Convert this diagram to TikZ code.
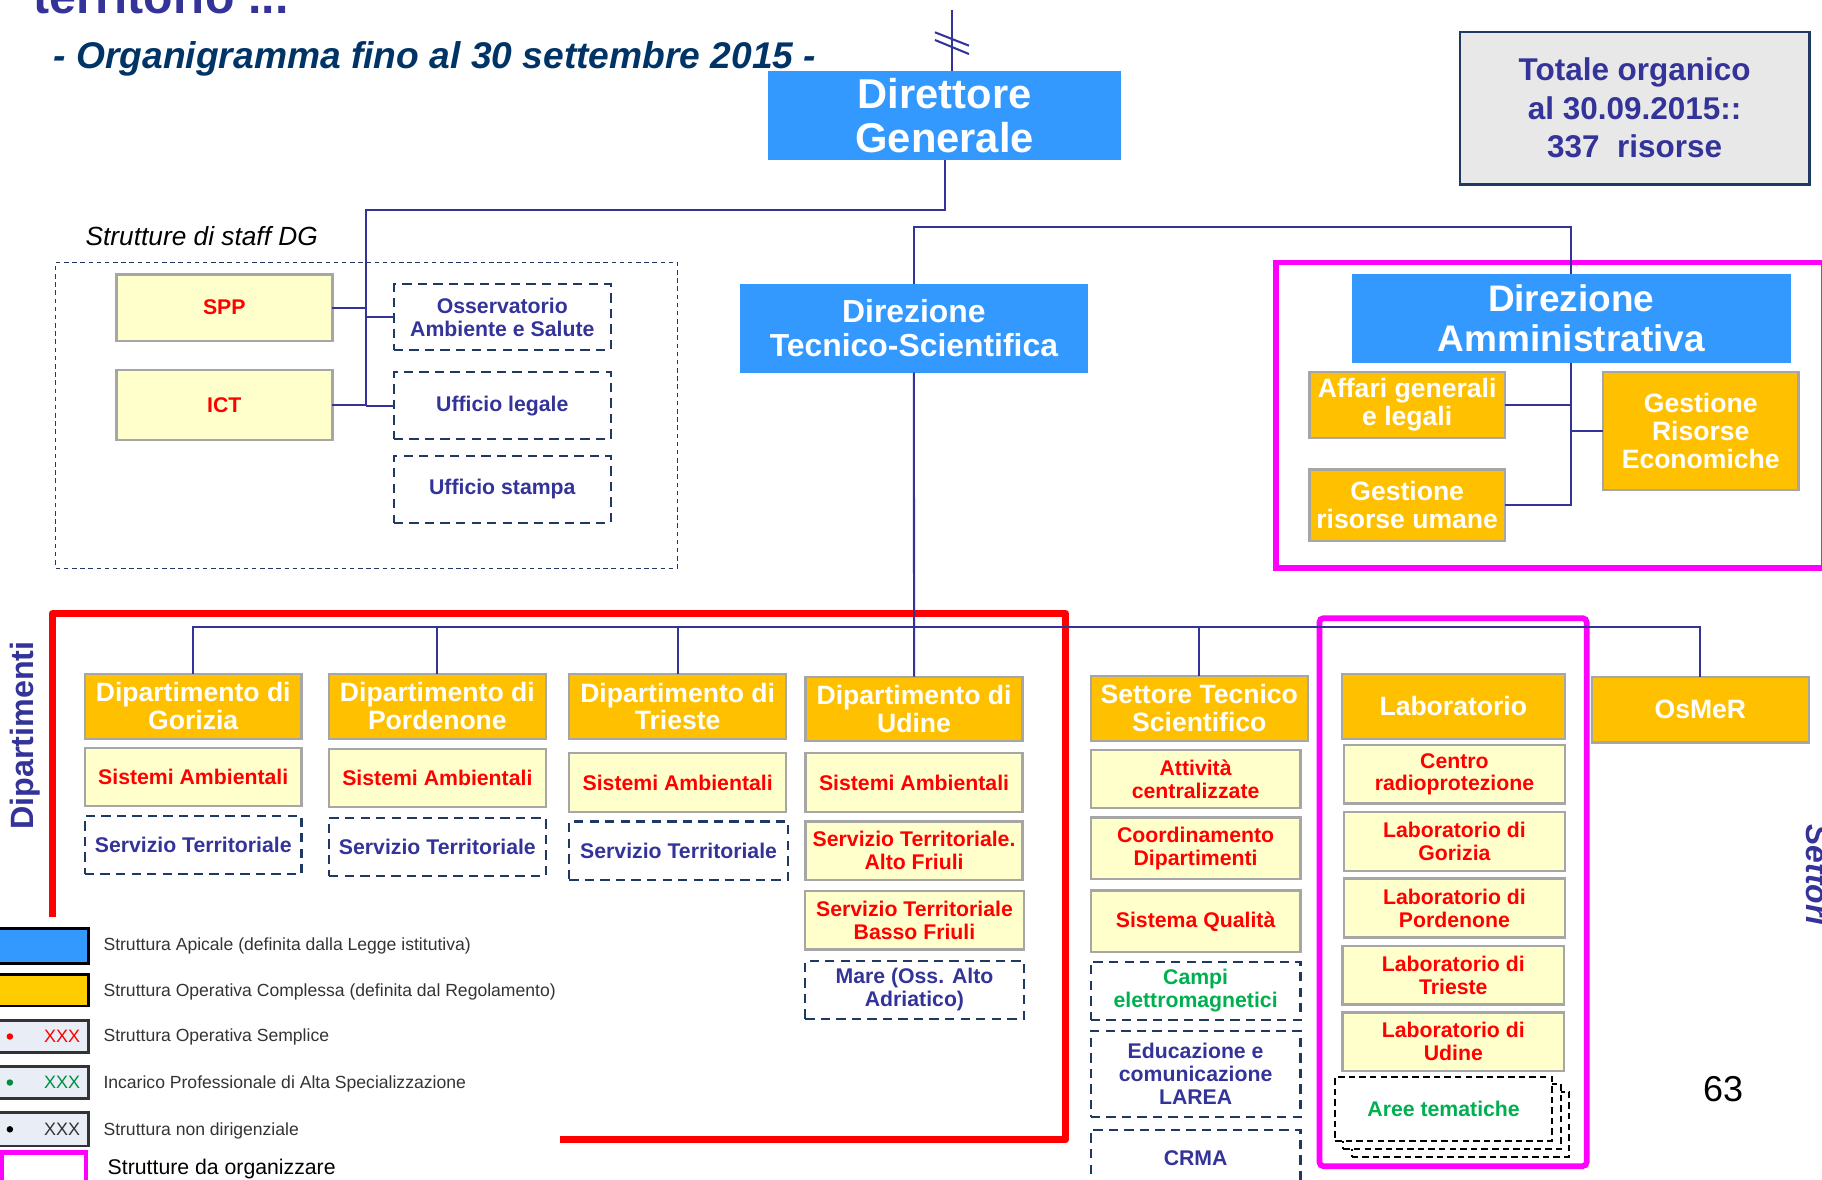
\documentclass[tikz,border=0pt]{standalone}
\usepackage{fontspec}
\setmainfont{Liberation Sans}
\definecolor{myblue}{HTML}{3399FF}
\definecolor{myorange}{HTML}{FFC000}
\definecolor{legorange}{HTML}{FFCC00}
\definecolor{myyellow}{HTML}{FFFFCC}
\definecolor{mygray}{HTML}{A6A6A6}
\definecolor{mynavy}{HTML}{203864}
\definecolor{mypurple}{HTML}{333399}
\definecolor{navytitle}{HTML}{003366}
\definecolor{mygreen}{HTML}{00B050}
\definecolor{mymagenta}{HTML}{FF00FF}
\definecolor{legfill}{HTML}{E9EDF5}
\definecolor{leggray}{HTML}{333333}
\definecolor{totfill}{HTML}{E8E8E8}
\newcommand\fsz[2]{\fontsize{#1}{#2}\selectfont}
% box by corners: style, name, x1, y1, x2, y2, text
\newcommand\bx[7]{%
  \pgfmathsetmacro\bxw{abs(#5-#3)*0.01}%
  \pgfmathsetmacro\bxh{abs(#6-#4)*0.01}%
  \node[#1, minimum width=\bxw cm, minimum height=\bxh cm] (#2) at ({(#3+#5)/2},{(#4+#6)/2}) {#7};}
\begin{document}
\begin{tikzpicture}[x=0.01cm,y=-0.01cm,
 base/.style={inner sep=0pt, outer sep=0pt, align=center},
 apical/.style={base, fill=myblue, text=white},
 hdr/.style={base, fill=myorange, draw=mygray, line width=0.55pt, text=white, font=\bfseries\fsz{6.5}{6.8}},
 sub/.style={base, fill=myyellow, draw=mygray, line width=0.55pt, text=red, font=\bfseries\fsz{5.2}{5.6}},
 staffbox/.style={base, fill=myyellow, draw=mygray, line width=0.7pt, text=red, font=\bfseries\fsz{5.2}{5.6}},
 dsub/.style={base, draw=mynavy, dash pattern=on 2.3pt off 1.5pt, line width=0.55pt, text=mypurple, font=\bfseries\fsz{5.2}{5.6}},
 areebox/.style={base, fill=white, draw=black, dash pattern=on 1.6pt off 1pt, line width=0.5pt},
 daysub/.style={base, fill=myorange, draw=mygray, line width=0.55pt, text=white, font=\bfseries\fsz{6.5}{6.9}},
 conn/.style={draw=mypurple, line width=0.5pt},
 legtxt/.style={anchor=base west, inner sep=0pt, text=leggray, font=\fsz{4.3}{5}},
 sw/.style={base, draw=black, line width=0.7pt},
 swl/.style={base, draw=leggray, line width=0.6pt, fill=legfill},
 xxx/.style={inner sep=0pt, font=\fsz{4.4}{5}},
 framebox/.style={base, line width=1.4pt},
]
\useasboundingbox (0,0) rectangle (1568,1015);

% titles
\node[anchor=base west, inner sep=0pt, text=mypurple, font=\bfseries\fsz{11.8}{12}] (title) at (28.5,11.5) {territorio ...};
\node[anchor=base west, inner sep=0pt, text=navytitle, font=\bfseries\itshape\fsz{9.1}{10}] (subtitle) at (45.5,59) {- Organigramma fino al 30 settembre 2015 -};

% frames
\draw[red, line width=1.7pt, line join=round] (45,789) -- (45,528) -- (917,528) -- (917,981) -- (482,981);
\bx{framebox, draw=mymagenta}{daframe}{1098}{226}{1570}{489}{}
\bx{framebox, draw=mymagenta, rounded corners=1pt}{labframe}{1135.5}{532}{1365.5}{1003.6}{}
\bx{base, draw=mynavy, line width=0.35pt, dash pattern=on 1.1pt off 0.9pt}{staffframe}{48}{225.8}{583}{489}{}
\node[anchor=base west, inner sep=0pt, font=\itshape\fsz{6.43}{7}] (stafflbl) at (73,211.7) {Strutture di staff DG};

% apical
\bx{apical, font=\bfseries\fsz{10.2}{10.8}}{dg}{661}{61}{965}{137.5}{Direttore\\Generale}
\bx{apical, font=\bfseries\fsz{7.8}{8.3}}{dts}{637}{244.4}{936}{320.7}{Direzione\\Tecnico-Scientifica}
\bx{apical, font=\bfseries\fsz{9.05}{9.8}}{da}{1163.4}{235.8}{1541}{312}{Direzione\\Amministrativa}

% totale
\bx{base, fill=totfill, draw=mynavy, line width=0.7pt, text=mypurple, font=\bfseries\fsz{7.7}{9.4}}{tot}{1256.5}{27.5}{1557}{158.6}{Totale organico\\al 30.09.2015::\\337\ \ risorse}

% staff
\bx{staffbox}{spp}{100}{236}{286}{293.5}{SPP}
\bx{staffbox}{ict}{100}{318.4}{286}{378.7}{ICT}
\bx{dsub}{oss}{339}{244.7}{525.6}{301}{Osservatorio\\Ambiente e Salute}
\bx{dsub}{leg}{339}{320.4}{525.6}{378}{Ufficio legale}
\bx{dsub}{stam}{339}{392.4}{525.6}{449.8}{Ufficio stampa}

% amministrativa
\bx{daysub}{aff}{1127}{319.9}{1295}{377.2}{Affari generali\\e legali}
\bx{daysub}{gru}{1127}{404}{1295}{465.3}{Gestione\\risorse umane}
\bx{daysub}{gre}{1379.6}{320}{1547.7}{421.7}{Gestione\\Risorse\\Economiche}

% dipartimenti
\bx{hdr}{gor}{73.1}{580}{259.5}{635.7}{Dipartimento di\\Gorizia}
\bx{sub}{gorS}{73.1}{643.4}{259.5}{693.4}{Sistemi Ambientali}
\bx{dsub}{gorT}{73.1}{702.2}{259.5}{752.4}{Servizio Territoriale}

\bx{hdr}{por}{283.2}{580}{469.6}{635.7}{Dipartimento di\\Pordenone}
\bx{sub}{porS}{283.2}{644.6}{469.6}{694.8}{Sistemi Ambientali}
\bx{dsub}{porT}{283.2}{704}{469.6}{753.9}{Servizio Territoriale}

\bx{hdr}{tri}{490}{580.3}{676.4}{635.7}{Dipartimento di\\Trieste}
\bx{sub}{triS}{490}{648.3}{676.4}{698.5}{Sistemi Ambientali}
\bx{dsub}{triT}{490}{707}{678}{757.3}{Servizio Territoriale}

\bx{hdr}{udi}{693.3}{582.3}{880}{638}{Dipartimento di\\Udine}
\bx{sub}{udiS}{693.3}{648.3}{880}{698.7}{Sistemi Ambientali}
\bx{sub}{udiA}{693.3}{707}{880}{757.3}{Servizio Territoriale.\\Alto Friuli}
\bx{sub}{udiB}{693}{766.9}{881}{817.2}{Servizio Territoriale\\Basso Friuli}
\bx{dsub}{udiM}{693}{826.8}{881}{876.8}{Mare (Oss. Alto\\Adriatico)}

% settore
\bx{hdr}{set}{938.6}{581.6}{1125.6}{637.4}{Settore Tecnico\\Scientifico}
\bx{sub}{setA}{938.6}{645.3}{1119.3}{695.6}{Attività\\centralizzate}
\bx{sub}{setC}{938.6}{703.5}{1119.3}{756.7}{Coordinamento\\Dipartimenti}
\bx{sub}{setQ}{938.6}{766.3}{1119.3}{819.5}{Sistema Qualità}
\bx{dsub, text=mygreen}{setE}{938.6}{827.7}{1119.3}{877.7}{Campi\\elettromagnetici}
\bx{dsub}{setL}{938.6}{887.3}{1119.3}{961.1}{Educazione e\\comunicazione\\LAREA}
\bx{dsub}{setR}{938.6}{972.3}{1119.3}{1022}{CRMA}

% laboratorio
\bx{hdr}{lab}{1154.6}{580}{1346.8}{635.7}{Laboratorio}
\bx{sub}{labC}{1156.6}{641.2}{1346.8}{691.5}{Centro\\radioprotezione}
\bx{sub}{labG}{1156.6}{698.8}{1346.8}{749.4}{Laboratorio di\\Gorizia}
\bx{sub}{labP}{1156.6}{756.1}{1346.8}{806.7}{Laboratorio di\\Pordenone}
\bx{sub}{labT}{1155.4}{814}{1346}{864.4}{Laboratorio di\\Trieste}
\bx{sub}{labU}{1155.4}{871.4}{1346}{921.7}{Laboratorio di\\Udine}
\bx{areebox}{aree3}{1163.2}{939.8}{1350.5}{995.5}{}
\bx{areebox}{aree2}{1156}{932.8}{1343.1}{989.2}{}
\bx{areebox, text=mygreen, font=\bfseries\fsz{5.2}{5.6}}{aree1}{1148.9}{927}{1335.9}{981.8}{Aree tematiche}

% osmer
\bx{hdr}{osm}{1369.8}{582.6}{1556.8}{638.9}{OsMeR}

% connectors
\coordinate (dgbrk) at (819,9);
\draw[conn] (dgbrk) -- (dgbrk |- dg.north);
\draw[conn] (804.6,27.8) -- (833.9,39.3);
\draw[conn] (804.6,34.4) -- (833.9,46.5);

\coordinate (staffbus) at (315,181);
\draw[conn] (dg.south) |- (staffbus) -- (staffbus |- leg.west);
\draw[conn] (spp.east) -- (spp.east -| staffbus);
\draw[conn] (oss.west) -- (oss.west -| staffbus);
\draw[conn] (ict.east) -- (ict.east -| staffbus);
\draw[conn] (leg.west) -- (leg.west -| staffbus);

\coordinate (dirbus) at (786.5,195);
\draw[conn] (dts.north) -- (dts.north |- dirbus) -| (da.north);
\draw[conn] (dts.south) -- (udi.north);
\draw[conn] (da.south) |- (gru.east);
\draw[conn] (aff.east) -- (aff.east -| da.south);
\draw[conn] (gre.west) -- (gre.west -| da.south);

\coordinate (depbus) at (0,540);
\draw[conn] (gor.north) |- (osm.north |- depbus) -- (osm.north);
\draw[conn] (por.north) -- (por.north |- depbus);
\draw[conn] (tri.north) -- (tri.north |- depbus);
\draw[conn] (set.north) -- (set.north |- depbus);

% side labels
\node[rotate=90, anchor=base, inner sep=0pt, text=mypurple, font=\bfseries\fsz{7.9}{8}] (diplbl) at (29,633) {Dipartimenti};
\node[rotate=-90, anchor=base west, inner sep=0pt, text=mypurple, font=\bfseries\itshape\fsz{7.8}{8}] (setlbl) at (1555,709) {Settori};
\node[anchor=base west, inner sep=0pt, font=\fsz{8.8}{9}] (pagenum) at (1465,948) {63};

% legend
\bx{sw, fill=myblue}{sw1}{-3}{799}{76}{829}{}
\bx{sw, fill=legorange}{sw2}{-3}{839}{76}{865.7}{}
\bx{swl}{sw3}{-3}{878.4}{76}{905.6}{}
\bx{swl}{sw4}{-3}{918}{76}{945.2}{}
\bx{swl}{sw5}{-3}{957.6}{76}{986.2}{}
\bx{base, draw=mymagenta, line width=1.2pt}{sw6}{1.5}{992}{74}{1030}{}
\node[xxx, text=red] (x1) at (53.5,892) {XXX};
\node[xxx, text=mygreen!80!black] (x2) at (53.5,931.6) {XXX};
\node[xxx, text=leggray] (x3) at (53.5,971.9) {XXX};
\fill[red] (8.5,892) circle (2.8);
\fill[mygreen!80!black] (8.5,931.6) circle (2.8);
\fill[black] (8.5,971.9) circle (2.8);
\node[legtxt] (l1) at (88.4,817.6) {Struttura Apicale (definita dalla Legge istitutiva)};
\node[legtxt] (l2) at (88.4,857.7) {Struttura Operativa Complessa (definita dal Regolamento)};
\node[legtxt] (l3) at (88.4,896.4) {Struttura Operativa Semplice};
\node[legtxt] (l4) at (88.4,936.6) {Incarico Professionale di Alta Specializzazione};
\node[legtxt] (l5) at (88.4,976.8) {Struttura non dirigenziale};
\node[anchor=base west, inner sep=0pt, font=\fsz{5.2}{6}] (l6) at (92,1011) {Strutture da organizzare};
\end{tikzpicture}
\end{document}
